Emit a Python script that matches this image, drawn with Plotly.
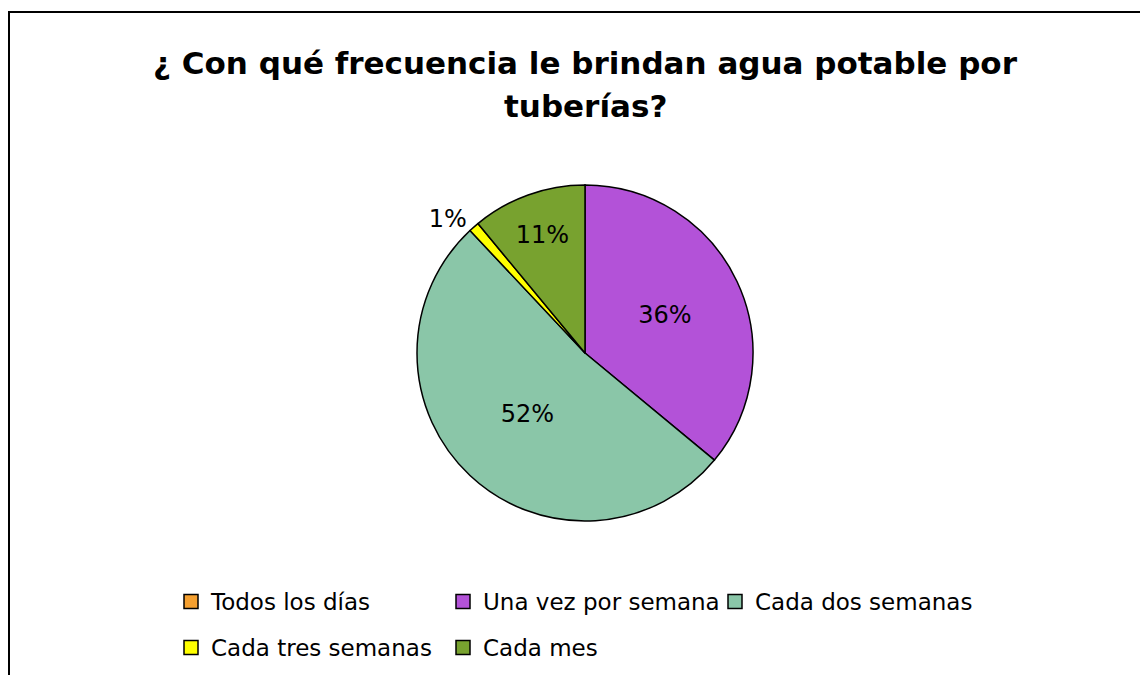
import plotly.graph_objects as go

categories = ['Todos los días', 'Una vez por semana', 'Cada dos semanas',
              'Cada tres semanas', 'Cada mes']
values = [0, 36, 52, 1, 11]
labels = ['', '36%', '52%', '1%', '11%']
colors = ['#F5A030', '#B352D8', '#8AC6A8', '#FFFF00', '#78A22F']
title_lines = ['¿ Con qué frecuencia le brindan agua potable por', 'tuberías?']

W, H = 1148, 675
OFF = 8  # page body margin
cx, cy, r = 585 - OFF, 353 - OFF, 168
FONT = 'DejaVu Sans, sans-serif'

fig = go.Figure()
fig.add_trace(go.Pie(
    labels=categories, values=values, text=labels,
    textinfo='text', sort=False, direction='clockwise', rotation=0,
    textposition=['inside', 'inside', 'inside', 'outside', 'inside'],
    marker=dict(colors=colors, line=dict(color='#000000', width=1.5)),
    textfont=dict(size=24, color='#000000'),
    insidetextorientation='horizontal',
    hoverinfo='label+percent', showlegend=False,
    domain=dict(x=[(cx - r) / W, (cx + r) / W], y=[1 - (cy + r) / H, 1 - (cy - r) / H]),
))

# legend entries, split in two rows like the original
for i, (cat, col) in enumerate(zip(categories, colors)):
    fig.add_trace(go.Scatter(
        x=[None], y=[None], mode='markers', name=cat,
        marker=dict(symbol='square', size=14, color=col, line=dict(color='#000000', width=1.5)),
        legend='legend' if i < 3 else 'legend2',
    ))

leg = dict(orientation='h', xanchor='left', yanchor='top', entrywidth=227,
           font=dict(size=23), traceorder='normal', bgcolor='rgba(0,0,0,0)')

fig.update_layout(
    width=W, height=H,
    paper_bgcolor='white', plot_bgcolor='white',
    font=dict(family=FONT, color='#000000'),
    margin=dict(l=0, r=0, t=0, b=0),
    xaxis=dict(visible=False), yaxis=dict(visible=False),
    legend=dict(leg, x=(186 - OFF - 15) / W, y=1 - (580 - OFF) / H),
    legend2=dict(leg, x=(186 - OFF - 15) / W, y=1 - (626 - OFF) / H),
    shapes=[dict(type='rect', xref='paper', yref='paper',
                 x0=(9 - OFF) / W, x1=1.02, y0=-0.02, y1=1 - (12 - OFF) / H,
                 line=dict(color='#000000', width=2))],
)

for line, ypix in zip(title_lines, [63, 106]):
    fig.add_annotation(text='<b>' + line + '</b>', xref='paper', yref='paper',
                       x=(585 - OFF) / W, y=1 - (ypix - OFF) / H, xanchor='center',
                       yanchor='middle', showarrow=False, font=dict(size=31))

fig.write_html('out.html')
